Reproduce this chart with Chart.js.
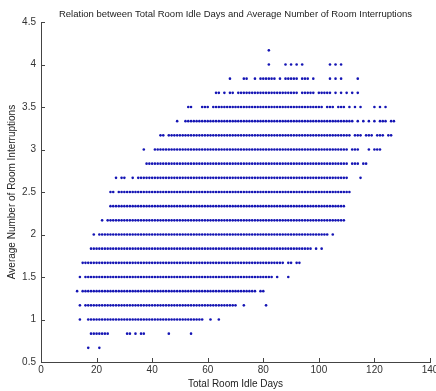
<!DOCTYPE html>
<html>
<head>
<meta charset="utf-8">
<script src="https://cdn.jsdelivr.net/npm/chart.js@4/dist/chart.umd.min.js"></script>
<style>
  html, body { margin: 0; padding: 0; background: #fff; }
  #wrap { width: 436px; height: 391px; }
</style>
</head>
<body>
<div id="wrap"><canvas id="chart-scatter"></canvas></div>
<script>
// interruption levels (y) and, for each, the idle-day runs
var levels = [2/3, 5/6, 1, 7/6, 4/3, 3/2, 5/3, 11/6, 2, 13/6, 7/3, 5/2, 8/3, 17/6, 3, 19/6, 10/3, 7/2, 11/3, 23/6, 4, 25/6];
var dayRuns = [
  "17 21",
  "18-24 31 32 34 36 37 46 54",
  "14 17-58 61 64",
  "14 16-70 73 81",
  "13 15-77 79 80",
  "14 16-83 85 89",
  "15-87 89 90 92 93",
  "18-97 99 101",
  "19 21-103 105",
  "22 24-109",
  "25-109",
  "25 26 28-111",
  "27 29 30 33 35-110 115",
  "38-110 112-114 116 117",
  "37 41-110 112-114 118 120-122",
  "43 44 46-111 113-115 117-119 121-123 125 126",
  "49 52-112 114 116 118 120 122-124 126 127",
  "53 54 58-60 62-101 103-105 107-109 111 113 115 120 122 124",
  "63 64 66 68 69 71-92 94-98 100-104 106 108 110 112 114",
  "68 73 74 77 79-84 86 88-92 94-96 98 104 106 108 114",
  "82 88 90 92 94 104 106 108",
  "82"
];
var xTicks = [0, 20, 40, 60, 80, 100, 120, 140];
var yTicks = [0.5, 1, 1.5, 2, 2.5, 3, 3.5, 4, 4.5];

var points = [];
levels.forEach(function (lv, i) {
  dayRuns[i].split(" ").forEach(function (part) {
    var ab = part.split("-").map(Number);
    var end = ab.length > 1 ? ab[1] : ab[0];
    for (var d = ab[0]; d <= end; d++) points.push({ x: d, y: lv });
  });
});

var FONT = "'Liberation Sans', Arial, sans-serif";
Chart.defaults.font.family = FONT;
Chart.defaults.color = "#333";

// matlab style ticks pointing into the plot
var inwardTicks = {
  id: "inwardTicks",
  afterDraw: function (chart) {
    var ctx = chart.ctx, a = chart.chartArea;
    var x = chart.scales.x, y = chart.scales.y;
    ctx.save();
    ctx.strokeStyle = "#444";
    ctx.lineWidth = 1;
    ctx.beginPath();
    xTicks.forEach(function (v) {
      var px = Math.round(x.getPixelForValue(v)) + 0.5;
      ctx.moveTo(px, a.bottom);
      ctx.lineTo(px, a.bottom - 4);
    });
    yTicks.forEach(function (v) {
      var py = Math.round(y.getPixelForValue(v)) + 0.5;
      ctx.moveTo(a.left, py);
      ctx.lineTo(a.left + 4, py);
    });
    ctx.stroke();
    ctx.restore();
  }
};

new Chart("chart-scatter", {
  type: "scatter",
  data: {
    datasets: [{
      data: points,
      pointRadius: 1.3,
      pointHoverRadius: 1.3,
      pointBackgroundColor: "#1414b4",
      pointBorderWidth: 0
    }]
  },
  options: {
    responsive: true,
    maintainAspectRatio: false,
    animation: false,
    events: [],
    layout: { padding: { left: 0, right: 6, top: 0, bottom: 0 } },
    plugins: {
      legend: { display: false },
      tooltip: { enabled: false },
      title: {
        display: true,
        fullSize: false,
        text: "Relation between Total Room Idle Days and Average Number of Room Interruptions",
        color: "#222",
        font: { size: 9.5, weight: "normal", family: FONT },
        padding: { top: 9, bottom: 1.6 }
      }
    },
    scales: {
      x: {
        type: "linear",
        min: 0,
        max: 140,
        afterBuildTicks: function (s) { s.ticks = xTicks.map(function (v) { return { value: v }; }); },
        afterFit: function (s) { s.height = 29; s.paddingLeft = 0; s.paddingRight = 0; },
        grid: { display: false, drawTicks: false },
        border: { display: true, color: "#444", width: 1 },
        ticks: { padding: 2, font: { size: 10 }, maxRotation: 0, autoSkip: false, callback: function (v) { return String(v); } },
        title: { display: true, text: "Total Room Idle Days", font: { size: 10 }, color: "#222", padding: { top: 0, bottom: 1 } }
      },
      y: {
        type: "linear",
        min: 0.5,
        max: 4.5,
        afterBuildTicks: function (s) { s.ticks = yTicks.map(function (v) { return { value: v }; }); },
        afterFit: function (s) { s.width = 41; s.paddingTop = 0; s.paddingBottom = 0; },
        grid: { display: false, drawTicks: false },
        border: { display: true, color: "#444", width: 1 },
        ticks: { padding: 5, font: { size: 10 }, autoSkip: false, callback: function (v) { return String(v); } },
        title: { display: true, text: "Average Number of Room Interruptions", font: { size: 10 }, color: "#222", padding: { top: 6, bottom: 0 } }
      }
    }
  },
  plugins: [inwardTicks]
});
</script>
</body>
</html>
